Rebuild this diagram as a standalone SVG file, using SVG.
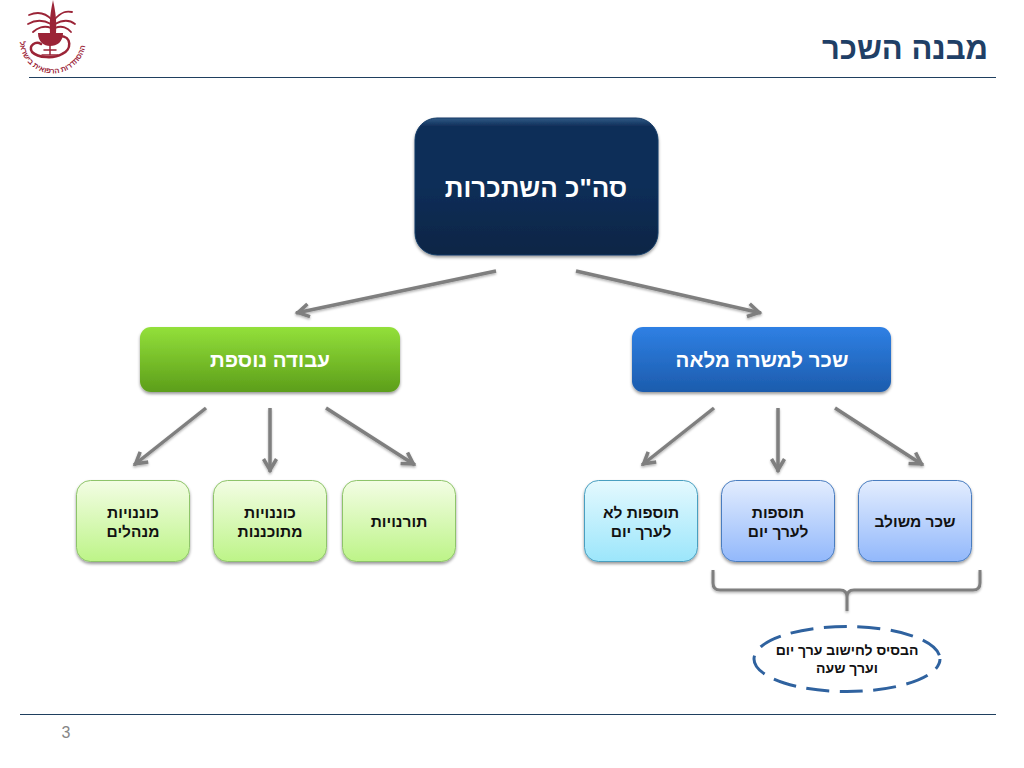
<svg xmlns="http://www.w3.org/2000/svg" width="1024" height="768" viewBox="0 0 1024 768">
<style>
text{font-family:"Liberation Sans",Arial,sans-serif;font-weight:700;text-anchor:middle;direction:rtl}
.big{fill:#fff;font-size:26px}
.mid{fill:#fff;font-size:20.500px}
.sm{fill:#111;font-size:15.500px}
.el{fill:#111;font-size:14px}
.logo{fill:none;stroke:#9b2437;stroke-linecap:round}
.box{stroke-width:1}
.conn{fill:none;stroke:#7f7f7f;stroke-width:3.500;marker-end:url(#ah)}
</style>
<defs>
<marker id="ah" markerUnits="userSpaceOnUse" viewBox="0 0 20 18" markerWidth="20" markerHeight="18" refX="17" refY="9" orient="auto"><path d="M4 2.500L15 9L4 15.500" fill="none" stroke="#7f7f7f" stroke-width="3.500"/></marker>
<linearGradient id="navy" x1="0" y1="0" x2="0" y2="1"><stop offset="0" stop-color="#2f5a86"/><stop offset=".06" stop-color="#0f2f59"/><stop offset=".5" stop-color="#0e2e58"/><stop offset="1" stop-color="#0b2545"/></linearGradient>
<linearGradient id="blue" x1="0" y1="0" x2="0" y2="1"><stop offset="0" stop-color="#2f80e4"/><stop offset="1" stop-color="#1c5cad"/></linearGradient>
<linearGradient id="green" x1="0" y1="0" x2="0" y2="1"><stop offset="0" stop-color="#93e03a"/><stop offset="1" stop-color="#5c9e1a"/></linearGradient>
<linearGradient id="lgreen" x1="0" y1="0" x2="0" y2="1"><stop offset="0" stop-color="#f3fde4"/><stop offset="1" stop-color="#bdf488"/></linearGradient>
<linearGradient id="lblue" x1="0" y1="0" x2="0" y2="1"><stop offset="0" stop-color="#e3edfe"/><stop offset="1" stop-color="#92b8fb"/></linearGradient>
<linearGradient id="cyan" x1="0" y1="0" x2="0" y2="1"><stop offset="0" stop-color="#e4f9fe"/><stop offset="1" stop-color="#9ce6fb"/></linearGradient>
<filter id="sh" x="-10%" y="-10%" width="120%" height="125%"><feDropShadow dx="0" dy="2" stdDeviation="1.800" flood-color="#000" flood-opacity=".4"/></filter>
<filter id="lsh" filterUnits="userSpaceOnUse" x="0" y="0" width="1024" height="768"><feDropShadow dx="0" dy="1.500" stdDeviation="1" flood-color="#000" flood-opacity=".3"/></filter>
<path id="arc" d="M23 26A33 33 0 1 0 84 30"/>
</defs>
<g id="logo">
<path d="M53 0C51 10 49 20 50 33L56 33C57 20 55 10 53 0Z" fill="#9b2437"/>
<path class="logo" stroke-width="1.800" d="M52 20C44 11 36 12 29 15M54 20C62 11 67 11 72 12M51 24C42 19 35 20 28 24M55 24C64 19 70 20 75 24M51 28C44 25 37 28 33 32M55 28C62 25 68 28 71 32"/>
<path d="M38 33H63C63 42 57 46 50 46C44 46 38 42 38 33Z" fill="#9b2437"/>
<path class="logo" stroke-width="2.500" d="M60 36C72 36 72 50 62 54C54 59 38 58 32 52C28 45 36 41 41 44"/>
<path class="logo" stroke-width="1.500" d="M50 44V55M42 55H58M44 50H56"/>
<text font-size="7.500" style="fill:#9b2437"><textPath href="#arc" startOffset="50%">ההסתדרות הרפואית בישראל</textPath></text>
</g>
<g id="title"><text x="905" y="59" style="font-size:31px;fill:#1f3f66">מבנה השכר</text></g>
<path id="header-line" d="M29 77.500H996" stroke="#1f3f5f" stroke-width="1.200"/>
<path id="footer-line" d="M20 714.500H996" stroke="#1f3f5f" stroke-width="1.200"/>
<text id="page" x="66" y="738" style="font-size:16px;font-weight:400;fill:#858585">3</text>
<g id="connectors" filter="url(#lsh)">
<path class="conn" d="M496 271L296 313"/>
<path class="conn" d="M576 271L761 313"/>
<path class="conn" d="M714 408L642 465"/>
<path class="conn" d="M778 408V472"/>
<path class="conn" d="M835 408L923 465"/>
<path class="conn" d="M206 408L134 465"/>
<path class="conn" d="M270 408V472"/>
<path class="conn" d="M326 408L415 465"/>
<path fill="none" stroke="#7f7f7f" stroke-width="3" d="M713 570V583Q713 590 720 590H840Q847 590 847 597V611V597Q847 590 854 590H973Q980 590 980 583V570"/>
</g>
<g id="n-total"><rect class="box" x="415" y="118" width="243" height="137" rx="22" fill="url(#navy)" stroke="#143a66" filter="url(#sh)"/><text class="big" x="536" y="197">סה"כ השתכרות</text></g>
<g id="n-full"><rect x="632" y="327" width="259" height="65" rx="11" fill="url(#blue)" filter="url(#sh)"/><text class="mid" x="762" y="367">שכר למשרה מלאה</text></g>
<g id="n-extra"><rect x="140" y="327" width="260" height="65" rx="11" fill="url(#green)" filter="url(#sh)"/><text class="mid" x="270" y="367">עבודה נוספת</text></g>
<g id="n-mix"><rect class="box" x="858.500" y="480.500" width="113" height="81" rx="14" fill="url(#lblue)" stroke="#4a7dc0" filter="url(#sh)"/><text class="sm" x="915" y="527">שכר משולב</text></g>
<g id="n-day"><rect class="box" x="721.500" y="480.500" width="113" height="81" rx="14" fill="url(#lblue)" stroke="#4a7dc0" filter="url(#sh)"/><text class="sm" x="778" y="518">תוספות</text><text class="sm" x="778" y="537">לערך יום</text></g>
<g id="n-noday"><rect class="box" x="584.500" y="480.500" width="113" height="81" rx="14" fill="url(#cyan)" stroke="#4a9fc0" filter="url(#sh)"/><text class="sm" x="641" y="518">תוספות לא</text><text class="sm" x="641" y="537">לערך יום</text></g>
<g id="n-shifts"><rect class="box" x="342.500" y="480.500" width="113" height="81" rx="14" fill="url(#lgreen)" stroke="#8ec46a" filter="url(#sh)"/><text class="sm" x="399" y="527">תורנויות</text></g>
<g id="n-oncall"><rect class="box" x="213.500" y="480.500" width="113" height="81" rx="14" fill="url(#lgreen)" stroke="#8ec46a" filter="url(#sh)"/><text class="sm" x="270" y="518">כוננויות</text><text class="sm" x="270" y="537">מתוכננות</text></g>
<g id="n-mgr"><rect class="box" x="76.500" y="480.500" width="113" height="81" rx="14" fill="url(#lgreen)" stroke="#8ec46a" filter="url(#sh)"/><text class="sm" x="133" y="518">כוננויות</text><text class="sm" x="133" y="537">מנהלים</text></g>
<g id="n-basis"><path d="M940 659A93 32.500 0 0 1 754 659A93 32.500 0 0 1 940 659Z" fill="none" stroke="#2f629f" stroke-width="3" stroke-dasharray="23 10.500" stroke-dashoffset="12"/><text class="el" x="847" y="655">הבסיס לחישוב ערך יום</text><text class="el" x="847" y="673">וערך שעה</text></g>
</svg>
